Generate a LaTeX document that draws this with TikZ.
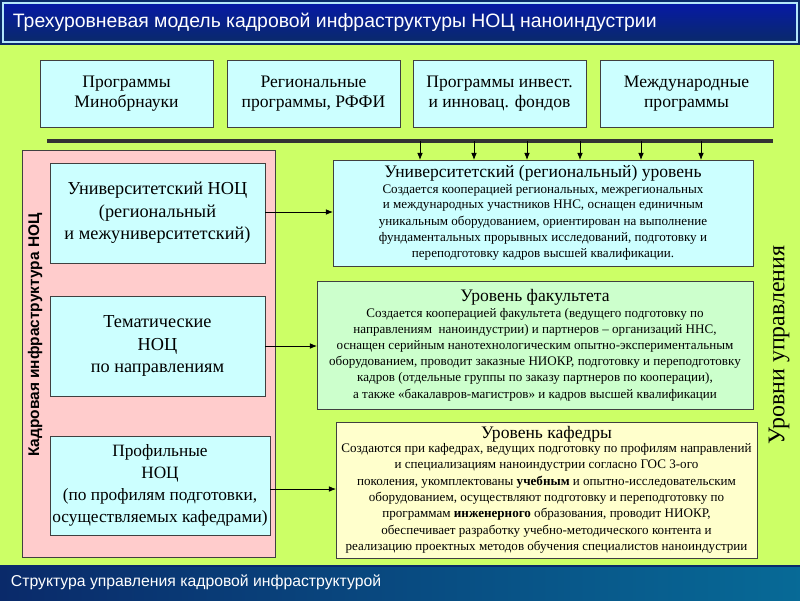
\documentclass[tikz,border=0pt]{standalone}
\usepackage{fontspec}
\setmainfont{Liberation Serif}
\newfontfamily\arial{Liberation Sans}
\usetikzlibrary{arrows.meta}
\definecolor{bg}{HTML}{CCFF66}
\definecolor{cy}{HTML}{CCFFFF}
\definecolor{gr}{HTML}{CCFFCC}
\definecolor{ye}{HTML}{FFFFCC}
\definecolor{pk}{HTML}{FFCCCC}
\definecolor{hdr}{HTML}{0A2A6A}
\tikzset{
  bx/.style={draw=black!75, line width=0.6pt, inner sep=0pt},
  big/.style={font=\fontsize{12.5}{14.5}\selectfont, align=center},
  arr/.style={-{Latex[length=5pt,width=4pt]}, line width=0.6pt},
}
\newcommand\smtxt{\fontsize{9.3}{10.8}\selectfont}
\newcommand\ttltxt{\fontsize{12.5}{14}\selectfont}
\begin{document}
\begin{tikzpicture}[x=0.025cm,y=-0.025cm]
\useasboundingbox (0,0) rectangle (800,600);
\fill[bg] (0,0) rectangle (800,600);
% header / footer
\fill[hdr] (0,0) rectangle (800,45);
\shade[top color=hdr!60!blue, bottom color=hdr] (3,3) rectangle (797,42);
\draw[white!70!cyan, line width=0.8pt] (3,3) rectangle (797,42);
\node[anchor=west, text=white, font=\arial\fontsize{13.8}{16}\selectfont] (title) at (8,22) {Трехуровневая модель кадровой инфраструктуры НОЦ наноиндустрии};
\fill[hdr] (0,565) rectangle (800,600);
\shade[left color=hdr, right color=hdr!70!cyan] (0,567) rectangle (800,600);
\node[anchor=west, text=white, font=\arial\fontsize{11.2}{13}\selectfont] (foot) at (6,582) {Структура управления кадровой инфраструктурой};
% top boxes
\foreach \x/\t [count=\i] in {40/{Программы\\Минобрнауки},227/{Региональные\\программы, РФФИ},413/{Программы инвест.\\и инновац. фондов},600/{Международные\\программы}}{
  \draw[bx, fill=cy] (\x,60) rectangle (\x+173,127);
  \node[big] (t\i) at (\x+86.5,93.5) {\t};
}
\draw[line width=2.2pt, black!80] (47,141) -- (773,141);
\foreach \x [count=\i] in {420,474,527,580,641,701}{
  \coordinate (a\i) at (\x,141);
  \coordinate (b\i) at (\x,160);
  \draw[arr] (a\i) -- (b\i);
}
% pink panel
\draw[bx, fill=pk] (22,150) rectangle (275,557);
\node[rotate=90, font=\arial\bfseries\fontsize{11}{13}\selectfont] (kadr) at (35,335) {Кадровая инфраструктура НОЦ};
\draw[bx, fill=cy] (50,163) rectangle (265,263);
\node[align=center, font=\fontsize{13}{16}\selectfont] (L1) at (157.5,213) {Университетский НОЦ\\(региональный\\и межуниверситетский)};
\draw[bx, fill=cy] (50,296) rectangle (265,396);
\node[align=center, font=\fontsize{13}{16}\selectfont] (L2) at (157.5,346) {Тематические\\НОЦ\\по направлениям};
\draw[bx, fill=cy] (50,436) rectangle (270,535);
\node[align=center, font=\fontsize{12.3}{15.5}\selectfont] (L3) at (160,485.5) {Профильные\\НОЦ\\(по профилям подготовки,\\осуществляемых кафедрами)};
% right boxes
\draw[bx, fill=cy] (333,160) rectangle (753,266);
\node[align=center] (R1) at (543,213) {{\ttltxt Университетский (региональный) уровень}\\[1pt]
{\smtxt\shortstack{Создается кооперацией региональных, межрегиональных\\и международных участников ННС, оснащен единичным\\уникальным оборудованием, ориентирован на выполнение\\фундаментальных прорывных исследований, подготовку и\\переподготовку кадров высшей квалификации.}}};
\draw[bx, fill=gr] (317,281) rectangle (753,409);
\node[align=center] (R2) at (535,345) {{\ttltxt Уровень факультета}\\[1pt]
{\smtxt\shortstack{Создается кооперацией факультета (ведущего подготовку по\\направлениям\ \ наноиндустрии) и партнеров -- организаций ННС,\\оснащен серийным нанотехнологическим опытно-экспериментальным\\оборудованием, проводит заказные НИОКР, подготовку и переподготовку\\кадров (отдельные группы по заказу партнеров по кооперации),\\а также «бакалавров-магистров» и кадров высшей квалификации}}};
\draw[bx, fill=ye] (336,422) rectangle (757,558);
\node[align=center] (R3) at (546.5,490) {{\ttltxt Уровень кафедры}\\[0pt]
{\smtxt\shortstack{Создаются при кафедрах, ведущих подготовку по профилям направлений\\и специализациям наноиндустрии согласно ГОС 3-ого\\поколения, укомплектованы \textbf{учебным} и опытно-исследовательским\\оборудованием, осуществляют подготовку и переподготовку по\\программам \textbf{инженерного} образования, проводит НИОКР,\\обеспечивает разработку учебно-методического контента и\\реализацию проектных методов обучения специалистов наноиндустрии}}};
\draw[arr] (265,212) -- (333,212);
\draw[arr] (265,346) -- (317,346);
\draw[arr] (270,489) -- (336,489);
\node[rotate=90, font=\fontsize{17}{20}\selectfont] (lev) at (779,345) {Уровни управления};
\end{tikzpicture}
\end{document}
